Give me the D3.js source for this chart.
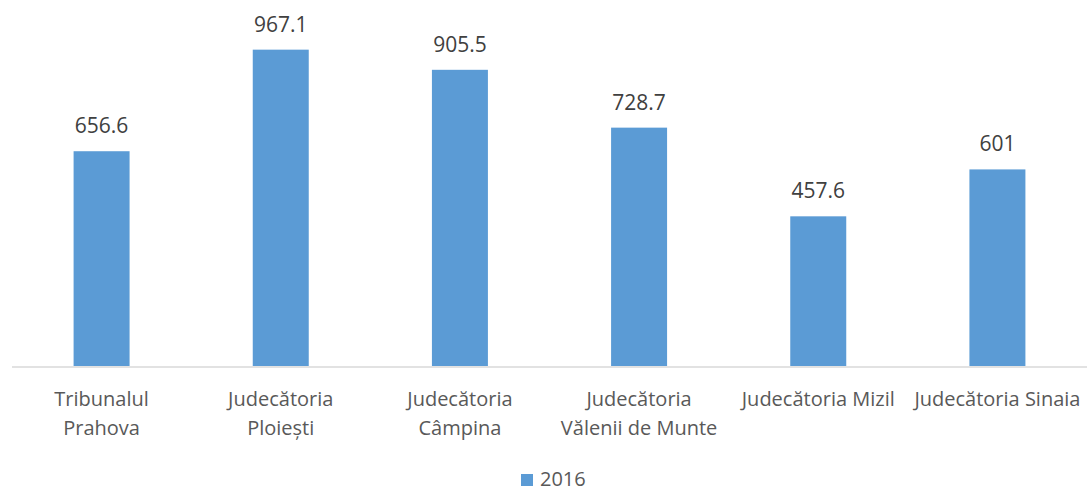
<!DOCTYPE html>
<html>
<head>
<meta charset="utf-8">
<script src="https://d3js.org/d3.v7.min.js"></script>
<style>
  body { margin: 0; background: #fff; }
  text { font-family: "Open Sans", "Noto Sans", sans-serif; }
</style>
</head>
<body>
<div id="chart"></div>
<script>
// data
var categories = ["Tribunalul Prahova", "Judecătoria Ploiești", "Judecătoria Câmpina",
                  "Judecătoria Vălenii de Munte", "Judecătoria Mizil", "Judecătoria Sinaia"];
// how each category label wraps onto lines
var categoryLines = [["Tribunalul", "Prahova"], ["Judecătoria", "Ploiești"], ["Judecătoria", "Câmpina"],
                     ["Judecătoria", "Vălenii de Munte"], ["Judecătoria Mizil"], ["Judecătoria Sinaia"]];
var values2016 = [656.6, 967.1, 905.5, 728.7, 457.6, 601];
var valueLabels = ["656.6", "967.1", "905.5", "728.7", "457.6", "601"];
var seriesName = "2016";

var width = 1090, height = 491;
var barColor = "#5b9bd5";

var svg = d3.select("#chart").append("svg")
  .attr("width", width)
  .attr("height", height);

// scales
var x = d3.scaleBand().domain(categories).range([12, 1087]).padding(0);
var y = d3.scaleLinear().domain([0, 1000]).range([366, 38.9]);
var barW = x.bandwidth() * 0.3125;

// bars
svg.selectAll("rect.bar")
  .data(values2016)
  .enter()
  .append("rect")
  .attr("class", "bar")
  .attr("x", function(d, i) { return x(categories[i]) + x.bandwidth() / 2 - barW / 2; })
  .attr("y", function(d) { return y(d); })
  .attr("width", barW)
  .attr("height", function(d) { return y(0) - y(d); })
  .attr("fill", barColor);

// value labels
svg.selectAll("text.val")
  .data(values2016)
  .enter()
  .append("text")
  .attr("class", "val")
  .attr("x", function(d, i) { return x(categories[i]) + x.bandwidth() / 2; })
  .attr("y", function(d) { return y(d) - 18; })
  .attr("text-anchor", "middle")
  .attr("fill", "#404040")
  .style("font-size", "21px")
  .text(function(d, i) { return valueLabels[i]; });

// axis line
svg.append("line")
  .attr("x1", 12).attr("x2", 1087)
  .attr("y1", 367).attr("y2", 367)
  .attr("stroke", "#d9d9d9")
  .attr("stroke-width", 1.5);

// category labels
var cat = svg.selectAll("text.cat")
  .data(categories)
  .enter()
  .append("text")
  .attr("class", "cat")
  .attr("x", function(d) { return x(d) + x.bandwidth() / 2; })
  .attr("y", 406)
  .attr("text-anchor", "middle")
  .attr("fill", "#595959")
  .style("font-size", "20px");

cat.each(function(d, i) {
  var t = d3.select(this);
  categoryLines[i].forEach(function(line, j) {
    t.append("tspan")
      .attr("x", x(d) + x.bandwidth() / 2)
      .attr("dy", j === 0 ? 0 : 29)
      .text(line);
  });
});

// legend
svg.append("rect")
  .attr("x", 521).attr("y", 474)
  .attr("width", 12).attr("height", 12)
  .attr("fill", barColor);
svg.append("text")
  .attr("x", 540).attr("y", 486)
  .attr("fill", "#595959")
  .style("font-size", "20px")
  .text(seriesName);
</script>
</body>
</html>
